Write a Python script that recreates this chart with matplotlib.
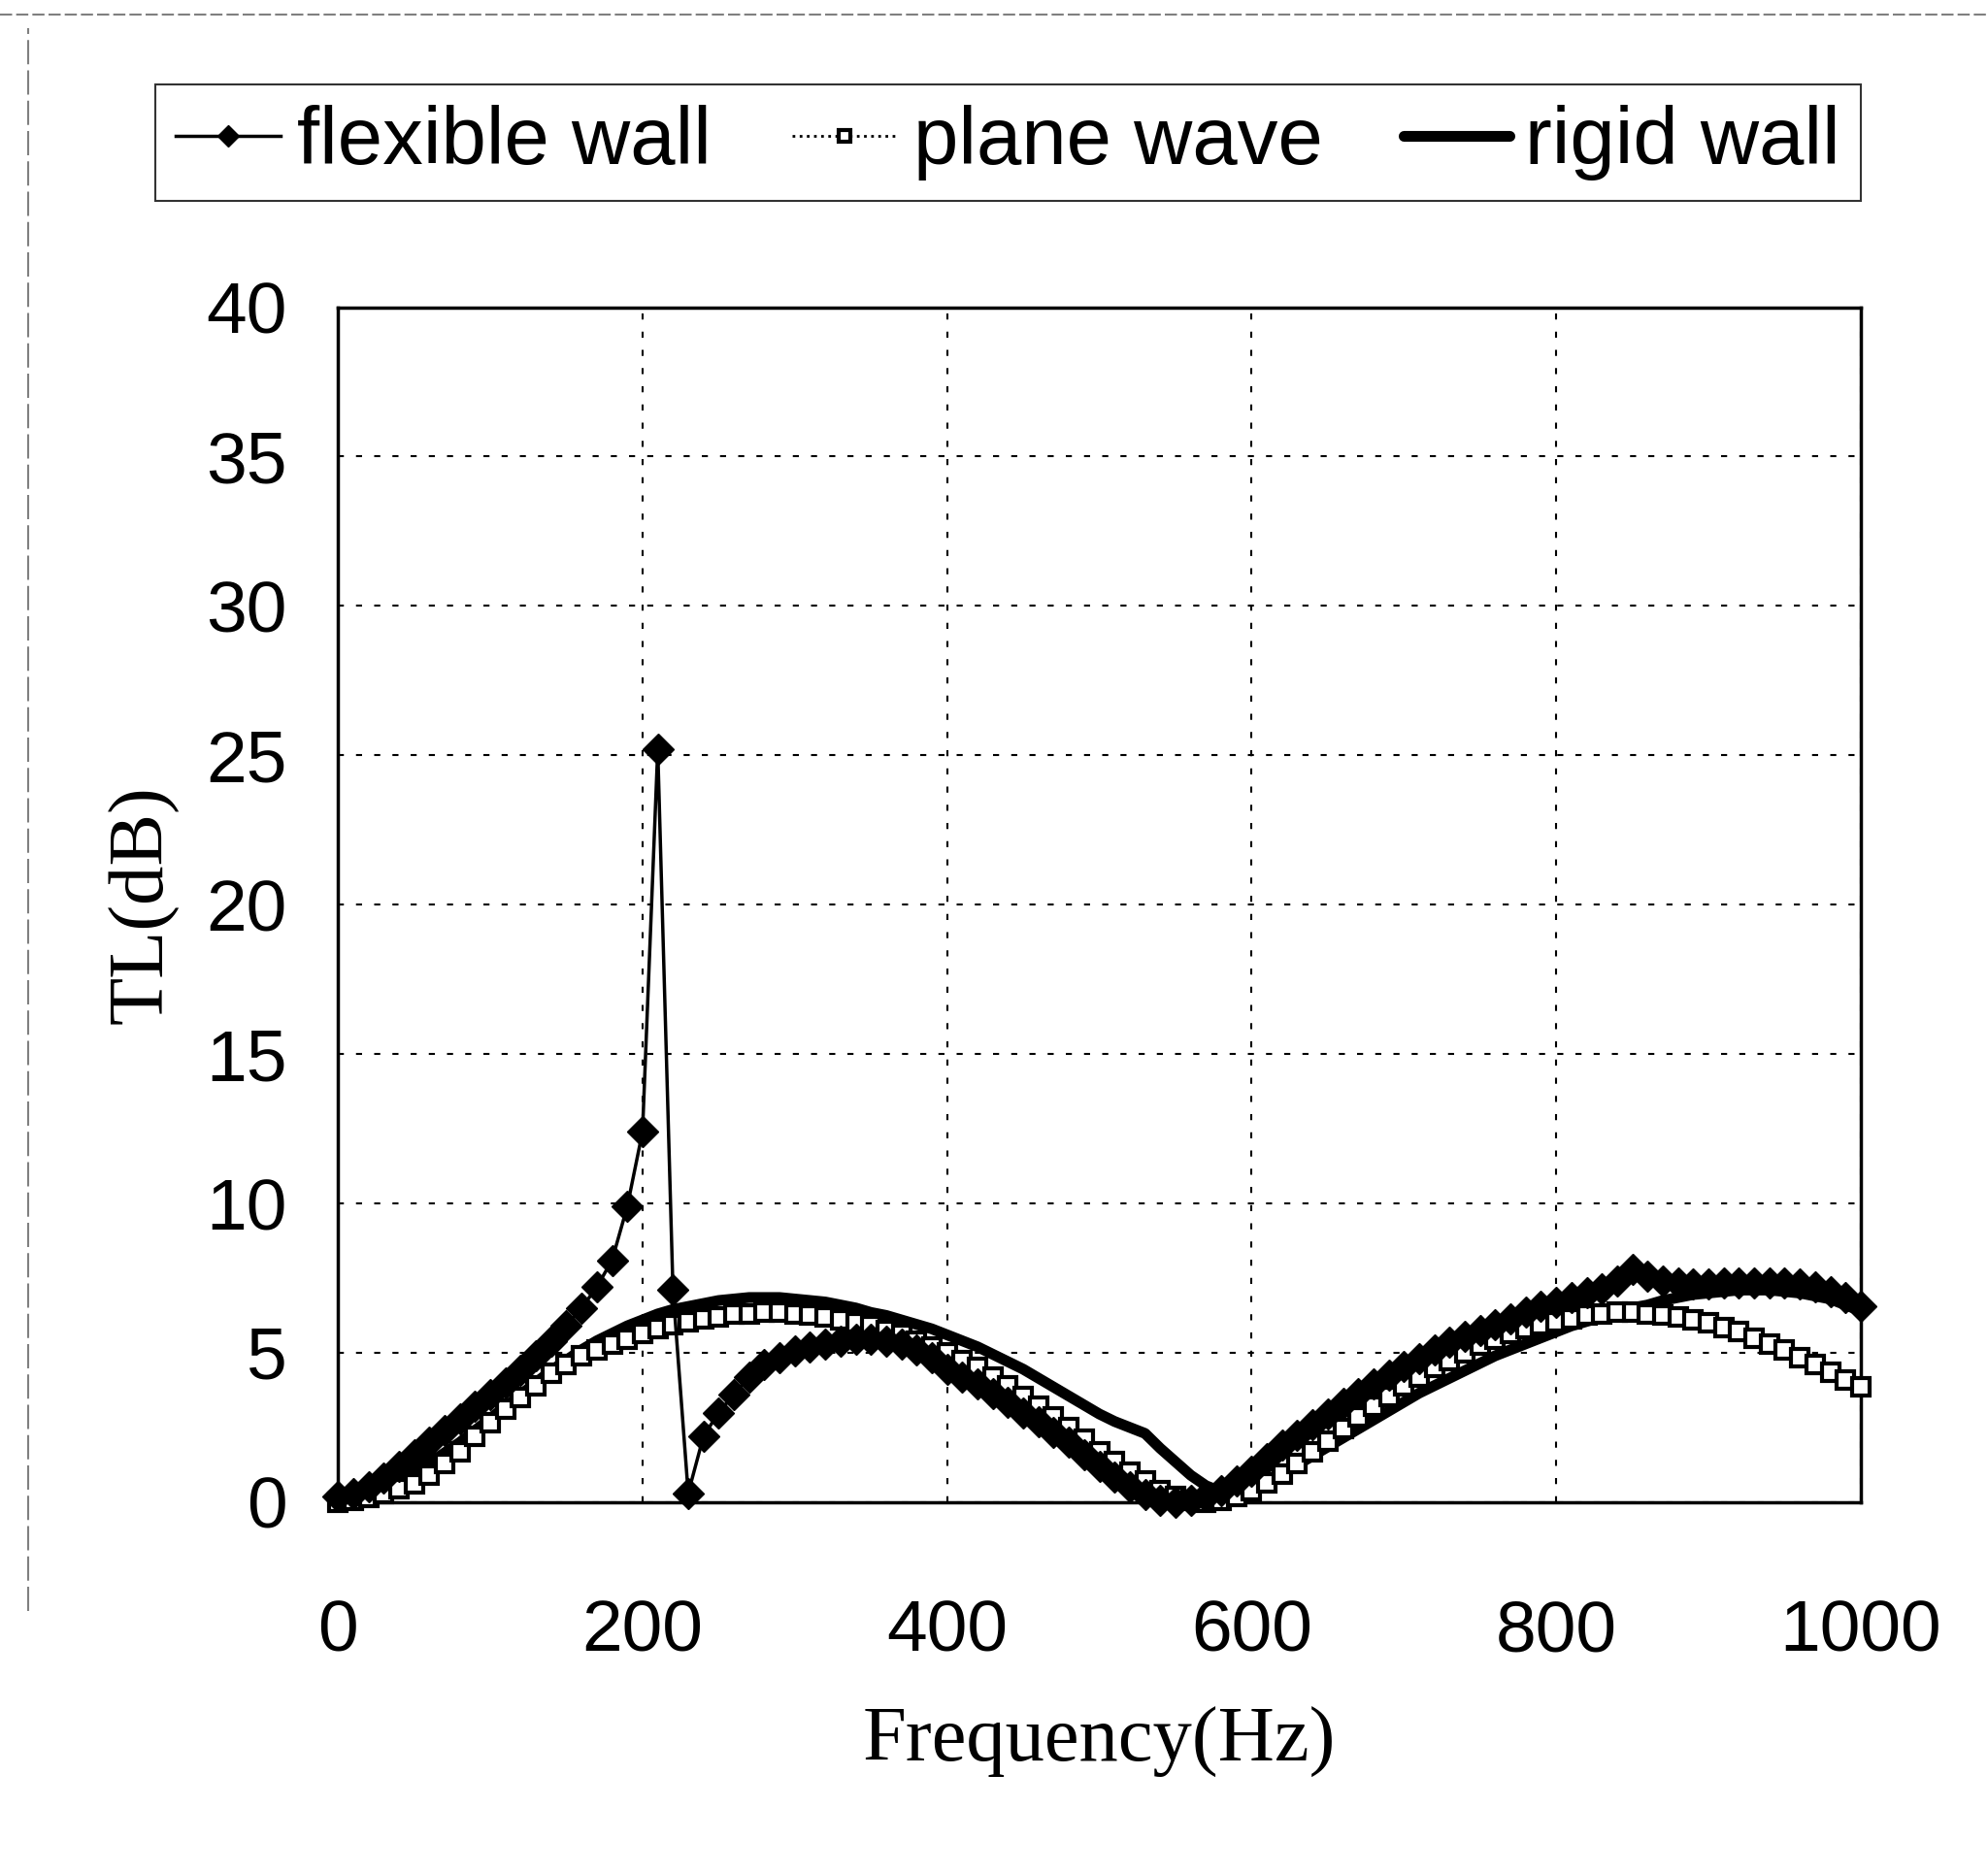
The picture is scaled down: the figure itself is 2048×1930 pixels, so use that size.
import numpy as np
import matplotlib
matplotlib.use('Agg')
import matplotlib.pyplot as plt
from matplotlib.lines import Line2D

# frequency axis, 10 Hz steps
freq = list(range(0, 1001, 10))

flexible_wall = [0.2, 0.3, 0.5, 0.8, 1.2, 1.6, 2.0, 2.4, 2.8, 3.2,
                 3.6, 4.0, 4.4, 4.9, 5.4, 5.9, 6.5, 7.2, 8.1, 9.9,
                 12.4, 25.2, 7.1, 0.3, 2.2, 3.0, 3.6, 4.2, 4.6, 4.85,
                 5.05, 5.2, 5.3, 5.4, 5.45, 5.45, 5.4, 5.3, 5.1, 4.85,
                 4.45, 4.2, 3.95, 3.65, 3.35, 3.0, 2.7, 2.35, 2.0, 1.6,
                 1.2, 0.85, 0.5, 0.25, 0.05, 0.0, 0.05, 0.2, 0.4, 0.7,
                 1.05, 1.45, 1.9, 2.25, 2.6, 2.95, 3.3, 3.65, 3.95, 4.25,
                 4.55, 4.8, 5.1, 5.35, 5.55, 5.75, 5.95, 6.15, 6.35, 6.55,
                 6.7, 6.85, 7.0, 7.15, 7.4, 7.8, 7.55, 7.4, 7.35, 7.3,
                 7.3, 7.35, 7.35, 7.35, 7.35, 7.35, 7.3, 7.2, 7.05, 6.85,
                 6.55]

plane_wave = [0.0, 0.05, 0.15, 0.3, 0.45, 0.6, 0.9, 1.3, 1.7, 2.2,
              2.65, 3.1, 3.5, 3.9, 4.3, 4.6, 4.9, 5.1, 5.3, 5.45,
              5.65, 5.8, 5.95, 6.05, 6.15, 6.2, 6.3, 6.3, 6.35, 6.35,
              6.3, 6.25, 6.2, 6.1, 6.0, 5.9, 5.75, 5.6, 5.4, 5.2,
              5.0, 4.75, 4.5, 4.2, 3.9, 3.55, 3.2, 2.85, 2.5, 2.1,
              1.7, 1.35, 1.0, 0.7, 0.4, 0.2, 0.05, 0.0, 0.05, 0.2,
              0.4, 0.65, 0.95, 1.3, 1.7, 2.05, 2.45, 2.85, 3.2, 3.55,
              3.9, 4.2, 4.5, 4.75, 5.0, 5.25, 5.45, 5.65, 5.8, 5.95,
              6.05, 6.15, 6.25, 6.3, 6.35, 6.35, 6.3, 6.25, 6.2, 6.1,
              6.0, 5.85, 5.7, 5.5, 5.3, 5.1, 4.85, 4.6, 4.35, 4.1,
              3.85]

rigid_wall = [0.0, 0.1, 0.25, 0.45, 0.7, 1.0, 1.3, 1.65, 2.0, 2.4,
              2.8, 3.2, 3.6, 4.0, 4.4, 4.75, 5.1, 5.4, 5.65, 5.9,
              6.1, 6.3, 6.45, 6.55, 6.65, 6.75, 6.8, 6.85, 6.85, 6.85,
              6.8, 6.75, 6.7, 6.6, 6.5, 6.35, 6.25, 6.1, 5.95, 5.8,
              5.6, 5.4, 5.2, 4.95, 4.7, 4.45, 4.15, 3.85, 3.55, 3.25,
              2.95, 2.7, 2.5, 2.3, 1.8, 1.35, 0.9, 0.55, 0.35, 0.35,
              0.5, 0.7, 0.95, 1.25, 1.55, 1.85, 2.15, 2.45, 2.75, 3.05,
              3.35, 3.65, 3.9, 4.15, 4.4, 4.65, 4.9, 5.1, 5.3, 5.5,
              5.7, 5.9, 6.05, 6.2, 6.35, 6.5, 6.6, 6.75, 6.85, 6.95,
              7.0, 7.05, 7.1, 7.1, 7.1, 7.05, 7.0, 6.9, 6.8, 6.6,
              6.4]

xticks = [0, 200, 400, 600, 800, 1000]
yticks = [0, 5, 10, 15, 20, 25, 30, 35, 40]

sans = ['Liberation Sans', 'DejaVu Sans']
serif = ['Liberation Serif', 'DejaVu Serif']

fig = plt.figure(figsize=(20.48, 19.30), dpi=100)
ax = fig.add_axes([0.170, 0.198, 0.766, 0.638])

ax.plot(freq, rigid_wall, color='black', lw=8, solid_capstyle='round',
        label='rigid wall', zorder=3, clip_on=False)
ax.plot(freq, plane_wave, color='black', lw=2, ls=':', marker='s', ms=13,
        mfc='white', mec='black', mew=3, label='plane wave', zorder=4, clip_on=False)
ax.plot(freq, flexible_wall, color='black', lw=2.5, marker='D', ms=16,
        mfc='black', mec='black', label='flexible wall', zorder=5, clip_on=False)

ax.set_xlim(0, 1000)
ax.set_ylim(0, 40)
ax.set_xticks(xticks)
ax.set_yticks(yticks)
ax.set_xticklabels([str(v) for v in xticks], family=sans, fontsize=54)
ax.set_yticklabels([str(v) for v in yticks], family=sans, fontsize=54)
ax.tick_params(axis='x', length=0, pad=72)
ax.tick_params(axis='y', length=0, pad=38)

ax.grid(True, color='black', ls=(0, (3, 6)), lw=1.5)
for s in ax.spines.values():
    s.set_linewidth(2.5)

ax.set_xlabel('Frequency(Hz)', family=serif, fontsize=58, labelpad=30)
ax.set_ylabel('TL(dB)', family=serif, fontsize=58, labelpad=20)

# legend above the plot, in the order of the original
h, l = ax.get_legend_handles_labels()
order = [2, 1, 0]
leg = fig.legend([h[i] for i in order], [l[i] for i in order],
                 loc='center', bbox_to_anchor=(0.507, 0.924), ncol=3,
                 prop={'family': sans, 'size': 60}, frameon=True, fancybox=False,
                 edgecolor='black', handlelength=1.3, handletextpad=0.2,
                 columnspacing=1.0, borderpad=0.25, markerscale=0.7)
leg.get_frame().set_linewidth(1.5)

# faint scan frame lines
fig.add_artist(Line2D([0.0, 1.0], [0.992, 0.992], transform=fig.transFigure,
                      color='gray', lw=1.5, ls=(0, (6, 2))))
fig.add_artist(Line2D([0.014, 0.014], [0.14, 0.985], transform=fig.transFigure,
                      color='gray', lw=1.5, ls=(0, (12, 3))))

fig.savefig('out.png', dpi=100)
